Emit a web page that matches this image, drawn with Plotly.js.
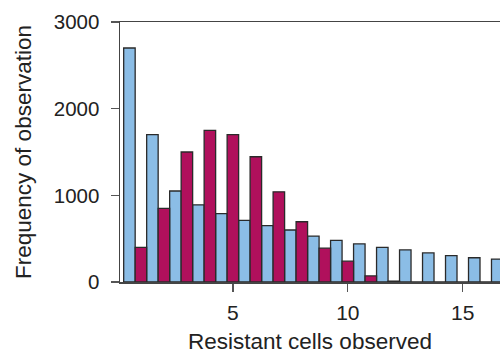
<!DOCTYPE html>
<html>
<head>
<meta charset="utf-8">
<script src="https://cdn.plot.ly/plotly-3.0.1.min.js"></script>
<style>html,body{margin:0;padding:0;background:#fff;}#chart{width:500px;height:356px;}</style>
</head>
<body>
<div id="chart"></div>
<script>
const cells = [1,2,3,4,5,6,7,8,9,10,11,12,13,14,15,16,17];
const blueSeries = [2700,1700,1050,890,790,710,650,600,530,480,440,400,370,335,305,280,265];
const redSeries = [400,850,1500,1750,1700,1445,1040,695,390,240,70,10,0,0,0,0,0];
const xTicks = [5,10,15];
const yTicks = [0,1000,2000,3000];

const outline = {color:'#2a2a2a', width:1.3};
const data = [
  {type:'bar', x:cells, y:blueSeries, width:0.5, offset:-0.75,
   marker:{color:'#8bbde6', line:outline}, hoverinfo:'skip'},
  {type:'bar', x:cells, y:redSeries, width:0.5, offset:-0.25,
   marker:{color:'#b0105c', line:outline}, hoverinfo:'skip'}
];
const fam = 'Liberation Sans, Arial, sans-serif';
const layout = {
  width:500, height:356,
  margin:{l:120, r:0, t:22, b:74},
  paper_bgcolor:'#fff', plot_bgcolor:'#fff',
  showlegend:false, barmode:'overlay',
  font:{family:fam, color:'#222'},
  xaxis:{range:[0.09,16.62], tickvals:xTicks, ticktext:xTicks.map(String),
    ticks:'outside', ticklen:8, tickwidth:1.3, tickcolor:'#555',
    ticklabelstandoff:3,
    showline:true, linecolor:'#444', linewidth:1.5, mirror:true,
    showgrid:false, zeroline:false,
    tickfont:{family:fam, size:21, color:'#222'},
    title:{text:'Resistant cells observed', font:{family:fam, size:22.5, color:'#222'}, standoff:10}},
  yaxis:{range:[0,3000], tickvals:yTicks, ticktext:yTicks.map(String),
    ticks:'outside', ticklen:8, tickwidth:1.3, tickcolor:'#555',
    ticklabelstandoff:7,
    showline:true, linecolor:'#444', linewidth:1.5,
    showgrid:false, zeroline:false,
    tickfont:{family:fam, size:20.5, color:'#222'},
    title:{text:'Frequency of observation', font:{family:fam, size:22.5, color:'#222'}, standoff:16}}
};
Plotly.newPlot('chart', data, layout, {staticPlot:true, displayModeBar:false});
</script>
</body>
</html>
